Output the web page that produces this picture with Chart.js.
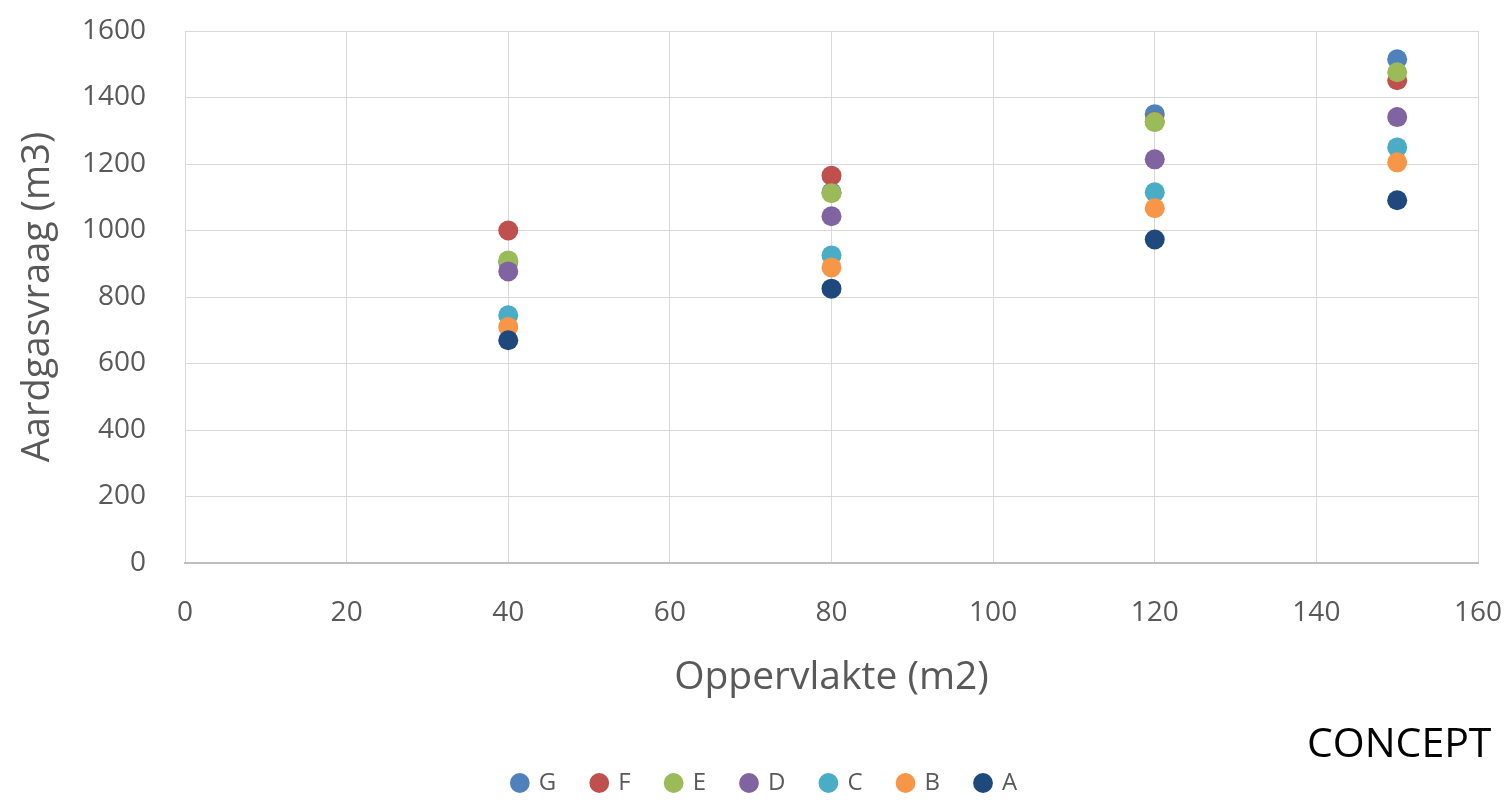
<!DOCTYPE html>
<html>
<head>
<meta charset="utf-8">
<script src="https://cdn.jsdelivr.net/npm/chart.js@4/dist/chart.umd.min.js"></script>
<style>
  html, body { margin: 0; padding: 0; background: #ffffff; }
  #wrap { position: relative; width: 1511px; height: 805px; }
  #c { display: block; }
  #concept { position: absolute; left: 1307px; top: 713px; font-family: "Open Sans", sans-serif; font-size: 41px; color: #000; line-height: normal; }
</style>
</head>
<body>
<div id="wrap">
  <canvas id="c" width="1511" height="805"></canvas>
  <div id="concept">CONCEPT</div>
</div>
<script>
// Data
const xValues = [40, 80, 120, 150];
const seriesNames = ['G', 'F', 'E', 'D', 'C', 'B', 'A'];
const G = [905, 1115, 1350, 1515];
const F = [1000, 1165, 1328, 1452];
const E = [910, 1112, 1326, 1476];
const D = [877, 1043, 1214, 1341];
const C = [745, 925, 1115, 1250];
const B = [710, 889, 1067, 1205];
const A = [670, 825, 973, 1091];
const seriesValues = [G, F, E, D, C, B, A];
const seriesColors = ['#4F81BD', '#C0504D', '#9BBB59', '#8064A2', '#4BACC6', '#F79646', '#1F497D'];
const xTitle = 'Oppervlakte (m2)';
const yTitle = 'Aardgasvraag (m3)';

const FONT = '"Open Sans", sans-serif';
const TEXT = '#595959';

const datasets = seriesNames.map((name, i) => ({
  label: name,
  data: xValues.map((x, j) => ({ x: x, y: seriesValues[i][j] })),
  backgroundColor: seriesColors[i],
  borderColor: seriesColors[i],
  pointRadius: 10,
  pointHoverRadius: 10,
  pointBorderWidth: 0,
  showLine: false,
  order: seriesNames.length - 1 - i
}));

new Chart(document.getElementById('c'), {
  type: 'scatter',
  data: { datasets },
  options: {
    responsive: false,
    devicePixelRatio: 1,
    animation: false,
    layout: { autoPadding: false, padding: { left: 52, right: 33, top: 31, bottom: 0 } },
    plugins: {
      tooltip: { enabled: false },
      legend: {
        position: 'bottom',
        labels: {
          usePointStyle: true,
          pointStyle: 'circle',
          boxWidth: 14,
          boxHeight: 14,
          padding: 36,
          color: TEXT,
          font: { family: FONT, size: 24 },
          sort: (a, b) => a.datasetIndex - b.datasetIndex
        }
      }
    },
    scales: {
      x: {
        type: 'linear',
        min: 0, max: 160,
        afterFit: (s) => { s.height = 172; },
        ticks: { stepSize: 20, color: TEXT, font: { family: FONT, size: 28 }, padding: 0, callback: (v) => String(v) },
        grid: { color: '#d9d9d9', lineWidth: 1, drawTicks: true, tickLength: 33, tickColor: 'rgba(0,0,0,0)' },
        border: { color: '#bfbfbf', width: 2 },
        title: { display: true, text: xTitle, color: TEXT, font: { family: FONT, size: 39 }, padding: { top: 0, bottom: 34 } }
      },
      y: {
        type: 'linear',
        min: 0, max: 1600,
        afterFit: (s) => { s.width = 133; },
        ticks: { stepSize: 200, color: TEXT, font: { family: FONT, size: 28 }, padding: 0, callback: (v) => String(v) },
        grid: { color: '#d9d9d9', lineWidth: 1, drawTicks: true, tickLength: 39, tickColor: 'rgba(0,0,0,0)' },
        border: { display: false },
        title: { display: true, text: yTitle, color: TEXT, font: { family: FONT, size: 38 }, padding: { top: -37, bottom: 0 } }
      }
    }
  }
});
</script>
</body>
</html>
